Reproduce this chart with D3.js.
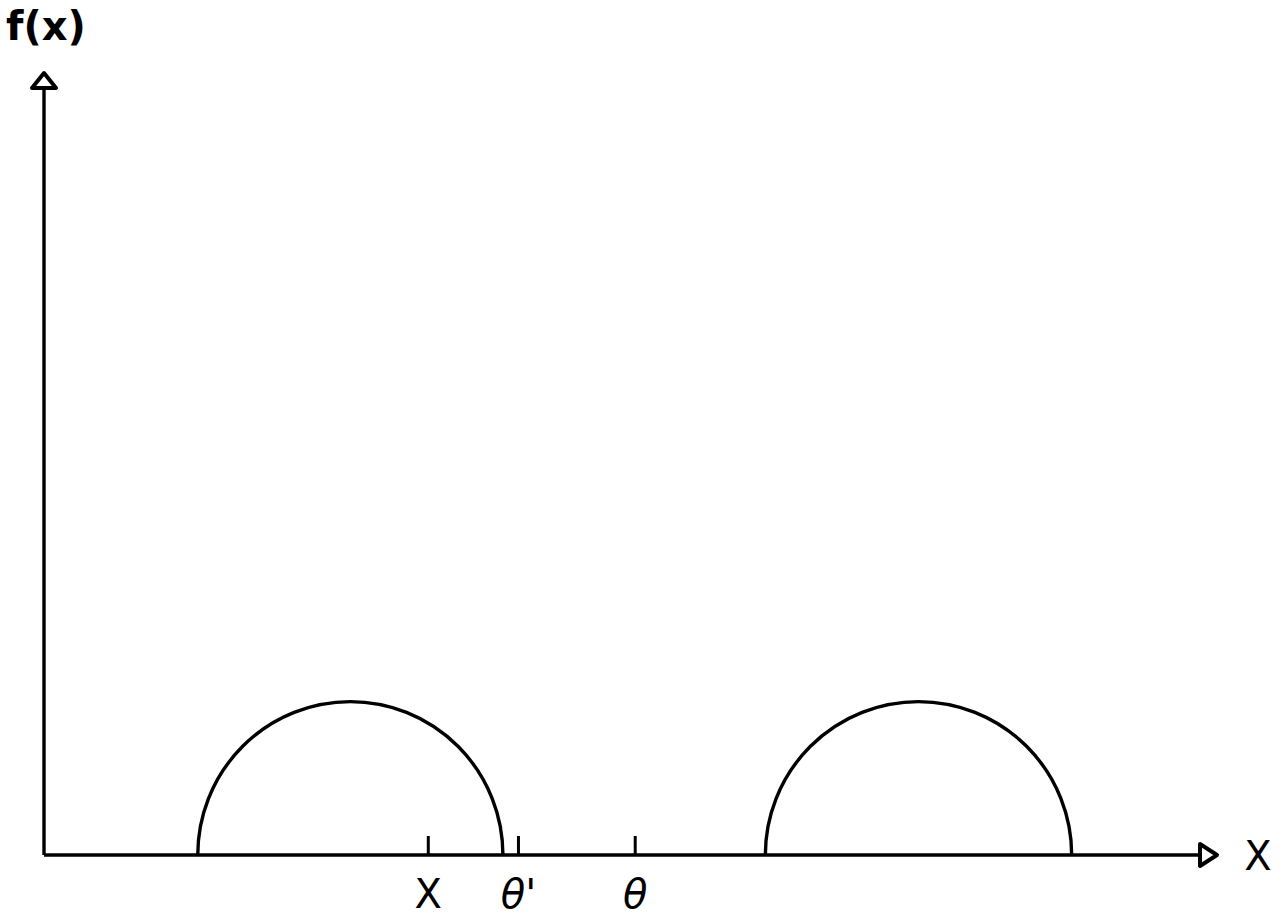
<!DOCTYPE html>
<html>
<head>
<meta charset="utf-8">
<script src="https://cdn.jsdelivr.net/npm/d3@7"></script>
<style>
  html, body { margin: 0; padding: 0; background: #fff; }
  svg { display: block; }
</style>
</head>
<body>
<script>
// ---- data ----
const humpStarts  = [13.3, 62.4];
const humpEnds    = [39.7, 88.9];
const humpHeights = [0.2, 0.2];
const tickValues  = [33.2, 41.0, 51.1];
const tickLabels  = ["X", "θ'", "θ"];
const xAxisLabel  = "X";
const yAxisLabel  = "f(x)";

const W = 1288, H = 917;
const svg = d3.select("body").append("svg").attr("width", W).attr("height", H);

const x = d3.scaleLinear().domain([0, 100]).range([44, 1200]);
const y = d3.scaleLinear().domain([0, 1]).range([855, 88]);

const ink = "#000";
const sw = 3.4;

// axes lines
svg.append("line").attr("x1", x(0)).attr("x2", x(100)).attr("y1", y(0)).attr("y2", y(0))
  .attr("stroke", ink).attr("stroke-width", sw);
svg.append("line").attr("x1", x(0)).attr("x2", x(0)).attr("y1", y(0)).attr("y2", y(1))
  .attr("stroke", ink).attr("stroke-width", sw);

// arrowheads (open triangles)
const xa = x(100), ya = y(0);
svg.append("path")
  .attr("d", `M${xa},${ya-11} L${xa+17},${ya} L${xa},${ya+11} Z`)
  .attr("fill", "#fff").attr("stroke", ink).attr("stroke-width", 4).attr("stroke-linejoin", "round");
const yx = x(0), yy = y(1);
svg.append("path")
  .attr("d", `M${yx-12},${yy} L${yx},${yy-15} L${yx+12},${yy} Z`)
  .attr("fill", "#fff").attr("stroke", ink).attr("stroke-width", 4).attr("stroke-linejoin", "round");

// humps (semi-ellipses)
humpStarts.forEach((s, i) => {
  const x0 = x(s), x1 = x(humpEnds[i]);
  const rx = (x1 - x0) / 2, ry = y(0) - y(humpHeights[i]);
  svg.append("path")
    .attr("d", `M${x0},${y(0)} A${rx},${ry} 0 0 1 ${x1},${y(0)}`)
    .attr("fill", "none").attr("stroke", ink).attr("stroke-width", sw);
});

// ticks
const axis = d3.axisBottom(x).tickValues(tickValues).tickFormat((d, i) => tickLabels[i])
  .tickSize(0).tickPadding(0);
const g = svg.append("g").attr("transform", `translate(0,${y(0)})`).call(axis);
g.select(".domain").remove();
g.selectAll(".tick line").remove();
g.selectAll(".tick").append("line")
  .attr("y1", 0).attr("y2", -19).attr("stroke", ink).attr("stroke-width", 3);
g.selectAll(".tick text")
  .attr("y", 53).attr("dy", 0)
  .attr("font-family", "DejaVu Sans, sans-serif")
  .attr("font-size", 40)
  .attr("fill", ink)
  .attr("font-style", (d, i) => i === 0 ? "normal" : "italic");

// axis labels
svg.append("text").attr("x", 1258).attr("y", 870).attr("text-anchor", "middle")
  .attr("font-family", "DejaVu Sans, sans-serif").attr("font-size", 40).attr("fill", ink)
  .text(xAxisLabel);
svg.append("text").attr("x", 6).attr("y", 40)
  .attr("font-family", "DejaVu Sans, sans-serif").attr("font-size", 40).attr("font-weight", "bold").attr("fill", ink)
  .text(yAxisLabel);
</script>
</body>
</html>
